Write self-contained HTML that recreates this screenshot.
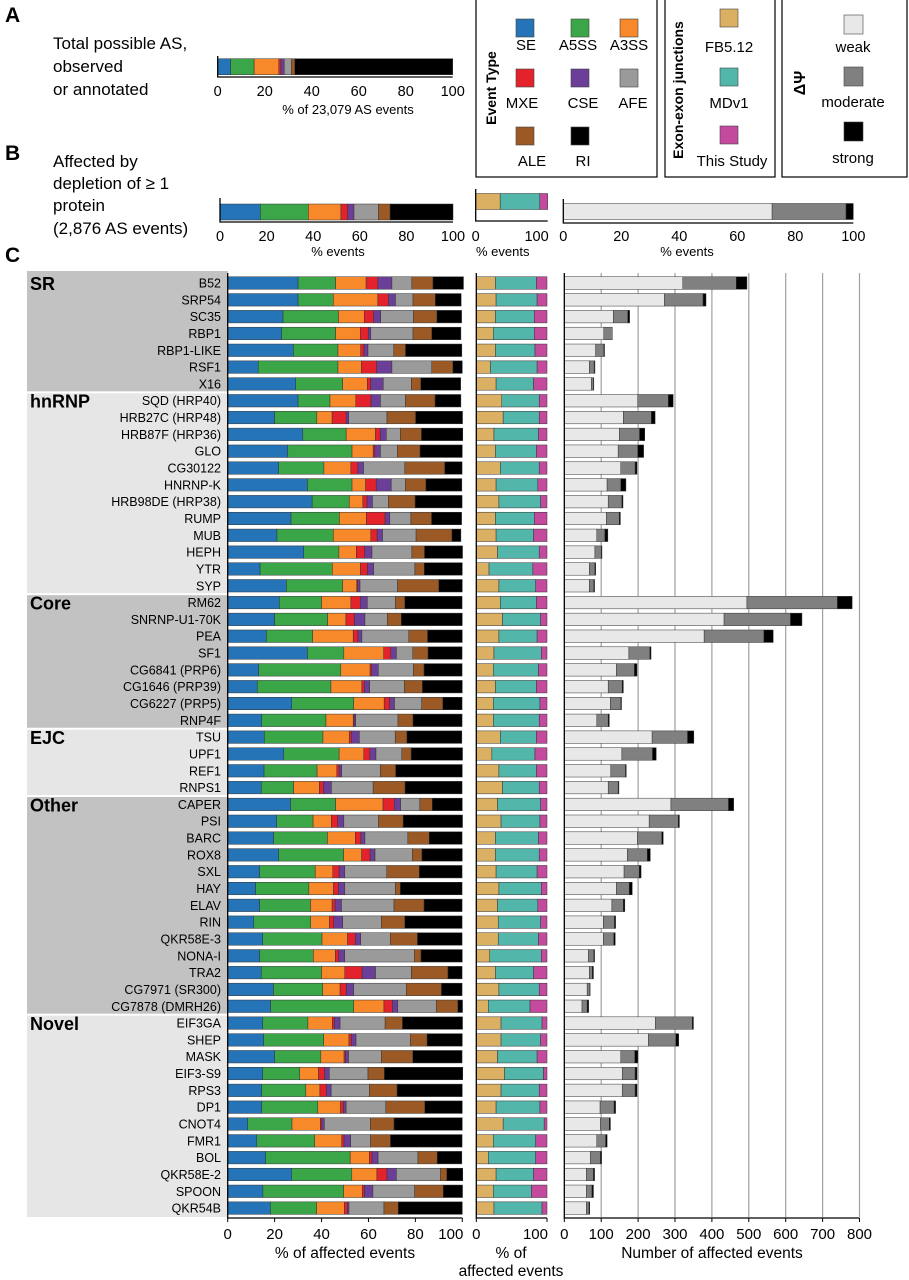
<!DOCTYPE html>
<html><head><meta charset="utf-8"><style>
html,body{margin:0;padding:0;background:#fff;}
svg{display:block;font-family:"Liberation Sans",Arial,sans-serif;}
</style></head><body>
<svg id="fig" width="909" height="1280" viewBox="0 0 909 1280" xmlns="http://www.w3.org/2000/svg">
<g id="topgroup">
<text x="5" y="22" font-size="21" font-weight="bold">A</text>
<text x="53" y="49" font-size="17">Total possible AS,</text>
<text x="53" y="72" font-size="17">observed</text>
<text x="53" y="95" font-size="17">or annotated</text>
<text x="348" y="114" font-size="13" text-anchor="middle">% of 23,079 AS events</text>
<text x="5" y="160" font-size="21" font-weight="bold">B</text>
<text x="53" y="167" font-size="17">Affected by</text>
<text x="53" y="189" font-size="17">depletion of ≥ 1</text>
<text x="53" y="211" font-size="17">protein</text>
<text x="53" y="234" font-size="17">(2,876 AS events)</text>
<text x="338" y="256" font-size="13" text-anchor="middle">% events</text>
<text x="476" y="256" font-size="13">% events</text>
<text x="687" y="256" font-size="13" text-anchor="middle">% events</text>
<text x="5" y="262" font-size="21" font-weight="bold">C</text>
</g>
<g id="legend">
<rect x="476" y="-2" width="181" height="179" fill="none" stroke="#000" stroke-width="1.2"/>
<text transform="translate(496,88) rotate(-90)" font-size="14" font-weight="bold" text-anchor="middle">Event Type</text>
<rect x="665" y="-2" width="110" height="179" fill="none" stroke="#000" stroke-width="1.2"/>
<text transform="translate(683,90) rotate(-90)" font-size="14" font-weight="bold" text-anchor="middle">Exon-exon junctions</text>
<rect x="782" y="-2" width="125" height="179" fill="none" stroke="#000" stroke-width="1.2"/>
<text transform="translate(805,83) rotate(-90)" font-size="16" font-weight="bold" text-anchor="middle">ΔΨ</text>
</g>
<g id="chart"></g>
</svg>
<script>
const proteins=["B52","SRP54","SC35","RBP1","RBP1-LIKE","RSF1","X16","SQD (HRP40)","HRB27C (HRP48)","HRB87F (HRP36)","GLO","CG30122","HNRNP-K","HRB98DE (HRP38)","RUMP","MUB","HEPH","YTR","SYP","RM62","SNRNP-U1-70K","PEA","SF1","CG6841 (PRP6)","CG1646 (PRP39)","CG6227 (PRP5)","RNP4F","TSU","UPF1","REF1","RNPS1","CAPER","PSI","BARC","ROX8","SXL","HAY","ELAV","RIN","QKR58E-3","NONA-I","TRA2","CG7971 (SR300)","CG7878 (DMRH26)","EIF3GA","SHEP","MASK","EIF3-S9","RPS3","DP1","CNOT4","FMR1","BOL","QKR58E-2","SPOON","QKR54B"];
const groupNames=["SR","hnRNP","Core","EJC","Other","Novel"];
const groupSizes=[7,12,8,4,13,12];
const eventTypes=["SE","A5SS","A3SS","MXE","CSE","AFE","ALE","RI"];
const totalPossiblePct=[5.5,10,10.5,0.9,1.4,3,1.5,67.2];
const affectedPct=[17.3,20.6,14,2.9,2.7,10.5,5,27];
const affectedJunctionPct=[34,55,11];
const affectedDpsiPct=[72,25.5,2.5];
const eventPct=[
[30,16,13,5,6,8.5,9,13],[30,15,19,4.5,3,7.5,9.5,11],[23.6,23.6,11,4,3,14,10,10.5],[23,23,10.5,3.4,1.1,18,8,12.4],[28,19,9.7,1.4,1.7,11,5,24],[13,34,10,6.5,6.5,17,9,4],[29,20,10.5,1.4,5.4,12,4,17],
[30,13.6,11,6.5,4,10.7,12.6,11],[20,18,6.5,6,1.1,16.3,12.2,20],[32,18.5,12.5,2,2.6,6,9,17.6],[25.6,27.4,9,0.7,2.4,7.2,9.7,18],[21.7,19.3,11.5,3,2.4,17.6,17,7.4],[34,19,5.8,4.5,6.4,6,8.8,15.3],[36,15.8,5.8,1.8,2.3,6.8,11.4,20],[27,20.6,11.5,8,2,9,8.8,12.8],[21,24,16,2.7,2.3,14.3,15.3,3.8],[32.4,15,7.4,3.6,3.1,17,5.4,16.2],[13.8,30.8,12,3,2.6,17.6,4,16.2],[25,24,6,0.4,1,16,17.6,10],
[22,18,12.5,4,3,12,4,24.4],[20,22.6,7.8,3.6,4.5,9.5,6,26],[16.5,19.7,17.3,2,1.7,20,8,14.8],[34,15.5,17,3,2.4,7,6.5,14.5],[13.2,35,12.5,0.7,2.8,15,4.5,16.2],[12.6,31.4,13.2,1,2.3,14.8,7.7,17],[27.3,26.4,13,2.3,2.1,11.6,9,8.2],[14.5,27.4,11.6,0.4,0.7,18,6.4,20.9],
[15.6,25,11.2,0.9,3.4,15.3,5,23.4],[23.9,23.6,10.5,2.6,2.6,11,4,21.9],[15.5,22.6,8.4,1,1.1,16.5,6.5,28.4],[14.3,13.8,11,1.7,3.4,17.8,13.6,24.3],
[26.8,19.2,20.2,4.8,2.7,8.2,5.3,12.8],[20.9,15.5,7.8,2.7,2.6,14.8,10.5,25.3],[19.6,22.9,11.9,2.4,1.7,18.3,9.1,14],[21.7,27.7,7.7,3.6,2.1,15.9,4.1,17.2],[13.6,23.7,7.5,2.7,2.4,17.9,13.9,18.2],[11.9,22.7,10.5,2.1,2.7,21.6,2.1,26.3],[13.6,21.7,9.2,1.3,2.7,22.4,12.8,16.2],[11.1,24.3,8,1.8,3.8,16.5,10,24.4],[14.9,25.3,10.9,3.3,2.3,12.6,11.6,19],[13.6,22.9,9.4,1.4,2.6,29.7,2.8,17.6],[14.3,25.7,9.9,7.4,5.7,15.3,15.6,6],[19.5,21,7.4,2.7,3.1,22.4,15,8.8],[18.3,35.4,12.9,3.6,2.3,16.5,9.1,2],
[14.9,19.3,10.4,0.9,2.4,19.2,7.4,25.6],[15.3,25.6,10.8,1,2,23.2,7.1,15],[20,19.7,9.9,0.6,1.3,14,13.4,21],[14.9,15.8,8,2.6,2,16.5,7,33.4],[14.5,18.8,6,2.7,2.1,16.3,11.8,27.8],[14.5,23.9,9.7,1.3,1.1,16.9,16.6,16],[8.5,18.9,12.1,0.6,1.1,19.6,10.1,29.1],[12.4,24.7,11.5,1,2.8,8.5,8.5,30.5],[16.2,36,8.2,1.1,2.6,17,8.2,10.5],[27.3,25.6,10.7,4.3,4,18.8,2.7,6.8],[15,34.4,8,0.9,3.6,17.8,12.2,8.2],[18.2,19.7,11.8,1.3,0.7,14.9,6.1,27.3]];
const junctionFB=[27,28,27,24,27,20,28,36,38,25,27,34,28,32,27,28,30,18,32,34,37,32,25,24,27,24,24,34,22,32,37,30,35,27,27,28,32,30,31,31,19,27,32,17,35,35,30,40,35,28,38,24,17,28,24,25];
const junctionMD=[58,58,55,58,56,66,53,53,51,63,58,55,59,59,55,53,59,62,52,51,54,54,67,64,58,66,65,51,61,53,52,61,55,61,62,58,60,57,60,57,73,54,57,59,58,56,56,55,54,62,58,60,67,53,54,68];
const junctionThis=[15,14,18,18,17,14,19,11,11,12,15,11,13,9,18,19,11,20,16,15,9,14,8,12,15,10,11,15,17,15,11,9,10,12,11,14,8,13,9,12,8,19,11,24,7,9,14,5,11,10,4,16,16,19,22,7];
const dpsiWeak=[321,271,133,107,85,68,73,199,160,149,146,153,116,119,114,88,83,68,68,495,433,379,175,141,119,125,88,238,156,126,119,289,230,198,171,162,141,129,106,106,65,68,62,48,247,228,153,157,157,97,98,88,71,60,60,60];
const dpsiModerate=[145,105,39,23,22,13,6,83,76,55,53,39,37,37,35,22,17,15,12,245,180,162,57,49,38,28,31,96,83,40,27,156,79,66,54,41,35,31,30,28,15,8,7,14,100,74,38,35,35,38,24,24,27,19,15,7];
const dpsiStrong=[29,8,5,0,2,2,1,13,10,14,16,5,14,3,3,8,2,2,2,40,31,25,3,7,3,2,3,17,10,2,2,14,3,4,8,5,8,4,3,4,2,3,1,4,3,8,8,5,5,4,3,4,3,3,4,2];
const pctTicks=[0,20,40,60,80,100];
const junctionTicks=[0,100];
const countTicks=[0,100,200,300,400,500,600,700,800];

const NS="http://www.w3.org/2000/svg";
const evColors=["#2574b8","#3aa648","#f7892a","#e4222c","#6b3e98","#9a9a9a","#9b5a25","#000000"];
const jColors=["#dcb062","#52b6ab","#c34a9d"];
const dColors=["#e8e8e8","#808080","#000000"];
const jNames=["FB5.12","MDv1","This Study"];
const dNames=["weak","moderate","strong"];
const svg=document.getElementById('chart');
const topG=document.getElementById('topgroup');
const leg=document.getElementById('legend');
function mk(tag,attrs,parent,text){const e=document.createElementNS(NS,tag);for(const k in attrs)e.setAttribute(k,attrs[k]);if(text!==undefined)e.textContent=text;(parent||svg).appendChild(e);return e;}

const rowY=k=>283+16.82*k;
const xEv=v=>227.7+v*2.346;
const xJ=v=>476.3+v*0.707;
const xD=v=>564.3+v*0.369;
const BH=12.5;

function stack(vals,colors,scale,y,h,parent,name){
  let acc=0;
  vals.forEach((v,i)=>{
    const x0=scale(acc),x1=scale(acc+v);acc+=v;
    if(v<=0)return;
    const r=mk('rect',{x:x0,y:y,width:Math.max(0,x1-x0),height:h,fill:colors[i],stroke:'#333','stroke-width':0.5},parent);
    
    
  });
}

const legPos=[[525,19],[580,19],[629,19],[525,69],[580,69],[629,69],[525,127],[580,127]];
const legLbl=[[526,50],[578,50],[629,50],[522,108],[583,108],[633,108],[532,166],[583,166]];
eventTypes.forEach((n,i)=>{
  const [cx,cy]=legPos[i];
  const s=mk('rect',{x:cx-9,y:cy,width:18,height:18,fill:evColors[i],stroke:'#444','stroke-width':0.6},leg);
  
  
  const t=mk('text',{x:legLbl[i][0],y:legLbl[i][1],'font-size':15,'text-anchor':'middle'},leg,n);
  
  
});
jNames.forEach((n,i)=>{
  const cy=[9,68,126][i];
  const s=mk('rect',{x:720,y:cy,width:18,height:18,fill:jColors[i],stroke:'#444','stroke-width':0.6},leg);
  
  
  const t=mk('text',{x:729+(i==2?3:0),y:[52,108,166][i],'font-size':15,'text-anchor':'middle'},leg,n);
  
  
});
dNames.forEach((n,i)=>{
  const cy=[15,67,122][i];
  const s=mk('rect',{x:844,y:cy,width:19,height:19,fill:dColors[i],stroke:'#444','stroke-width':0.6},leg);
  
  
  const t=mk('text',{x:853,y:[52,107,163][i],'font-size':15,'text-anchor':'middle'},leg,n);
  
  
});

function smallAxis(scale,ticks,y0,y1,tickY,parent,name,endLast){
  const a=mk('path',{d:`M${scale(ticks[0])},${y0} V${y1} H${scale(ticks[ticks.length-1])}`,fill:'none',stroke:'#000','stroke-width':1.3},parent);
  
  
  ticks.forEach((t,i)=>{
    const last=endLast&&i===ticks.length-1;
    const l=mk('text',{x:scale(t)+(last?1:0),y:tickY,'font-size':14.5,'text-anchor':last?'end':'middle'},parent,String(t));
    
    
  });
}
const xA=v=>217.7+v*2.35;
stack(totalPossiblePct,evColors,xA,58.7,16,topG,'panel-a-bar');
smallAxis(xA,pctTicks,56,77,96,topG,'panel-a');
const xB=v=>220+v*2.33;
stack(affectedPct,evColors,xB,204,16,topG,'panel-b-bar');
smallAxis(xB,pctTicks,198,222,241,topG,'panel-b');
const xBJ=v=>475.7+v*0.72;
stack(affectedJunctionPct,jColors,xBJ,193.5,16,topG,'panel-b-junction-bar');
smallAxis(xBJ,junctionTicks,189,221,241,topG,'panel-b-junction',true);
const xBD=v=>563.3+v*2.9;
stack(affectedDpsiPct,dColors,xBD,203.5,16,topG,'panel-b-dpsi-bar');
smallAxis(xBD,pctTicks,199,223,241,topG,'panel-b-dpsi');

let start=0;
groupNames.forEach((g,gi)=>{
  const n=groupSizes[gi];
  const y0=gi==0?271:rowY(start-0.5)+1;
  const y1=gi==groupNames.length-1?1217:rowY(start+n-0.5)-1;
  const r=mk('rect',{x:27,y:y0,width:201,height:y1-y0,fill:gi%2==0?'#c2c2c2':'#e6e6e6'});
  
  
  const t=mk('text',{x:30,y:rowY(start)+7,'font-size':18,'font-weight':'bold'},svg,g);
  
  
  start+=n;
});

countTicks.forEach(t=>{
  if(t===0)return;
  const l=mk('line',{x1:xD(t),x2:xD(t),y1:273,y2:1217,stroke:'#a0a0a0','stroke-width':1.2});
  
  
});

proteins.forEach((p,k)=>{
  const cy=rowY(k),y=cy-BH/2;
  const lbl=mk('text',{x:221,y:cy+4.5,'font-size':12.5,'text-anchor':'end'},svg,p);
  
  
  stack(eventPct[k],evColors,xEv,y,BH,svg,'event-bar-'+k);
  stack([junctionFB[k],junctionMD[k],junctionThis[k]],jColors,xJ,y,BH,svg,'junction-bar-'+k);
  stack([dpsiWeak[k],dpsiModerate[k],dpsiStrong[k]],dColors,xD,y,BH,svg,'count-bar-'+k);
});

function cAxis(scale,ticks,name,endLast){
  const a=mk('path',{d:`M${scale(ticks[0])},273 V1218 H${scale(ticks[ticks.length-1])}`,fill:'none',stroke:'#000','stroke-width':1.3});
  
  
  ticks.forEach((t,i)=>{
    const tk=mk('line',{x1:scale(t),x2:scale(t),y1:1218,y2:1222,stroke:'#000','stroke-width':1});
    
    
    const last=endLast&&i===ticks.length-1;
    const l=mk('text',{x:scale(t)+(last?1:0),y:1239,'font-size':15,'text-anchor':last?'end':'middle'},svg,String(t));
    
    
  });
}
cAxis(xEv,pctTicks,'event-type',true);
cAxis(xJ,junctionTicks,'junction',true);
cAxis(xD,countTicks,'count');
const t1=mk('text',{x:345,y:1258,'font-size':15.5,'text-anchor':'middle'},svg,'% of affected events');


const t2=mk('text',{x:511,y:1258,'font-size':15.5,'text-anchor':'middle'},svg,'% of');


const t3=mk('text',{x:511,y:1276,'font-size':15.5,'text-anchor':'middle'},svg,'affected events');


const t4=mk('text',{x:712,y:1258,'font-size':15.5,'text-anchor':'middle'},svg,'Number of affected events');


</script>
</body></html>
